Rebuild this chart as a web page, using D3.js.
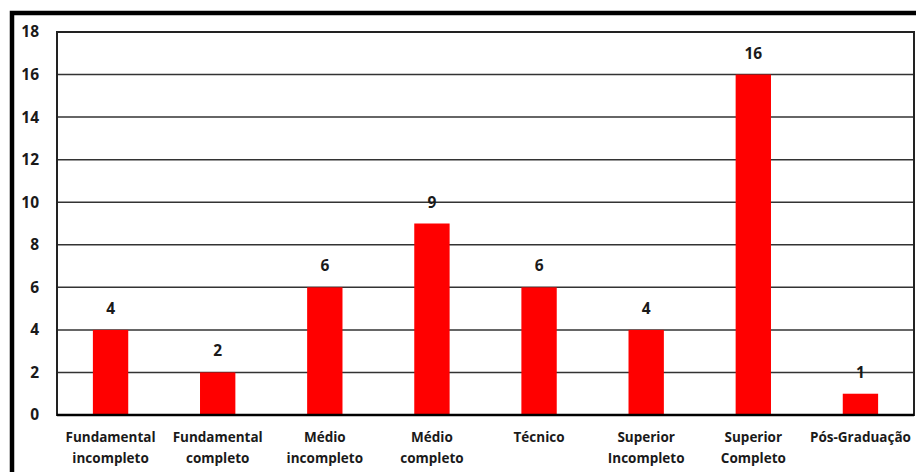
<html>
  <head>
    <meta charset="utf-8">
    <style type="text/css">
      body { margin: 0; background: #fff; }
      .chart text { font-family: "Open Sans", sans-serif; font-weight: bold; fill: #1a1a1a; }
    </style>
    <script src="https://d3js.org/d3.v7.min.js"></script>
  </head>
  <body>
    <svg class="chart" width="916" height="472"></svg>
    <script>

// data
var categories = [
  ["Fundamental", "incompleto"],
  ["Fundamental", "completo"],
  ["Médio", "incompleto"],
  ["Médio", "completo"],
  ["Técnico"],
  ["Superior", "Incompleto"],
  ["Superior", "Completo"],
  ["Pós-Graduação"]
];
var values = [4, 2, 6, 9, 6, 4, 16, 1];
var yTicks = [0, 2, 4, 6, 8, 10, 12, 14, 16, 18];

var margin = {top: 32, right: 2, bottom: 57, left: 57},
    width = 916 - margin.left - margin.right,
    height = 472 - margin.top - margin.bottom;

var svg = d3.select(".chart");

// outer frame, runs off the right and bottom edge
svg.append("rect")
  .attr("x", 12).attr("y", 13)
  .attr("width", 950).attr("height", 500)
  .attr("fill", "none")
  .attr("stroke", "#000")
  .attr("stroke-width", 4.5);

var g = svg.append("g")
  .attr("transform", "translate(" + margin.left + "," + margin.top + ")");

var x = d3.scaleBand()
  .domain(d3.range(categories.length))
  .range([0, width])
  .paddingInner(0.67)
  .paddingOuter(0.335);

var y = d3.scaleLinear()
  .domain([0, 18])
  .range([height, 0]);

// gridlines
g.selectAll(".grid")
  .data(yTicks)
  .enter().append("line")
    .attr("x1", 0).attr("x2", width)
    .attr("y1", function(d) { return y(d); })
    .attr("y2", function(d) { return y(d); })
    .attr("stroke", "#333")
    .attr("stroke-width", 1.5);

// bars
g.selectAll(".bar")
  .data(values)
  .enter().append("rect")
    .attr("x", function(d, i) { return x(i); })
    .attr("y", function(d) { return y(d); })
    .attr("width", x.bandwidth())
    .attr("height", function(d) { return height - y(d); })
    .attr("fill", "#ff0000");

// plot border
g.append("rect")
  .attr("width", width).attr("height", height)
  .attr("fill", "none")
  .attr("stroke", "#222")
  .attr("stroke-width", 2);

// baseline
g.append("line")
  .attr("x1", 0).attr("x2", width)
  .attr("y1", height).attr("y2", height)
  .attr("stroke", "#000")
  .attr("stroke-width", 2.5);

// value labels
g.selectAll(".val")
  .data(values)
  .enter().append("text")
    .attr("x", function(d, i) { return x(i) + x.bandwidth() / 2; })
    .attr("y", function(d) { return y(d) - 16; })
    .attr("text-anchor", "middle")
    .style("font-size", "15.5px")
    .text(function(d) { return d; });

// y axis labels
g.selectAll(".ytick")
  .data(yTicks)
  .enter().append("text")
    .attr("x", -18)
    .attr("y", function(d) { return y(d); })
    .attr("dy", "0.35em")
    .attr("text-anchor", "end")
    .style("font-size", "15.5px")
    .text(function(d) { return d; });

// category labels
var cat = g.selectAll(".cat")
  .data(categories)
  .enter().append("text")
    .attr("text-anchor", "middle")
    .style("font-size", "13.5px")
    .attr("transform", function(d, i) {
      return "translate(" + (x(i) + x.bandwidth() / 2) + "," + (height + 27) + ")";
    });

cat.selectAll("tspan")
  .data(function(d) { return d; })
  .enter().append("tspan")
    .attr("x", 0)
    .attr("dy", function(d, i) { return i ? 21 : 0; })
    .text(function(d) { return d; });

</script>
  </body>
</html>
